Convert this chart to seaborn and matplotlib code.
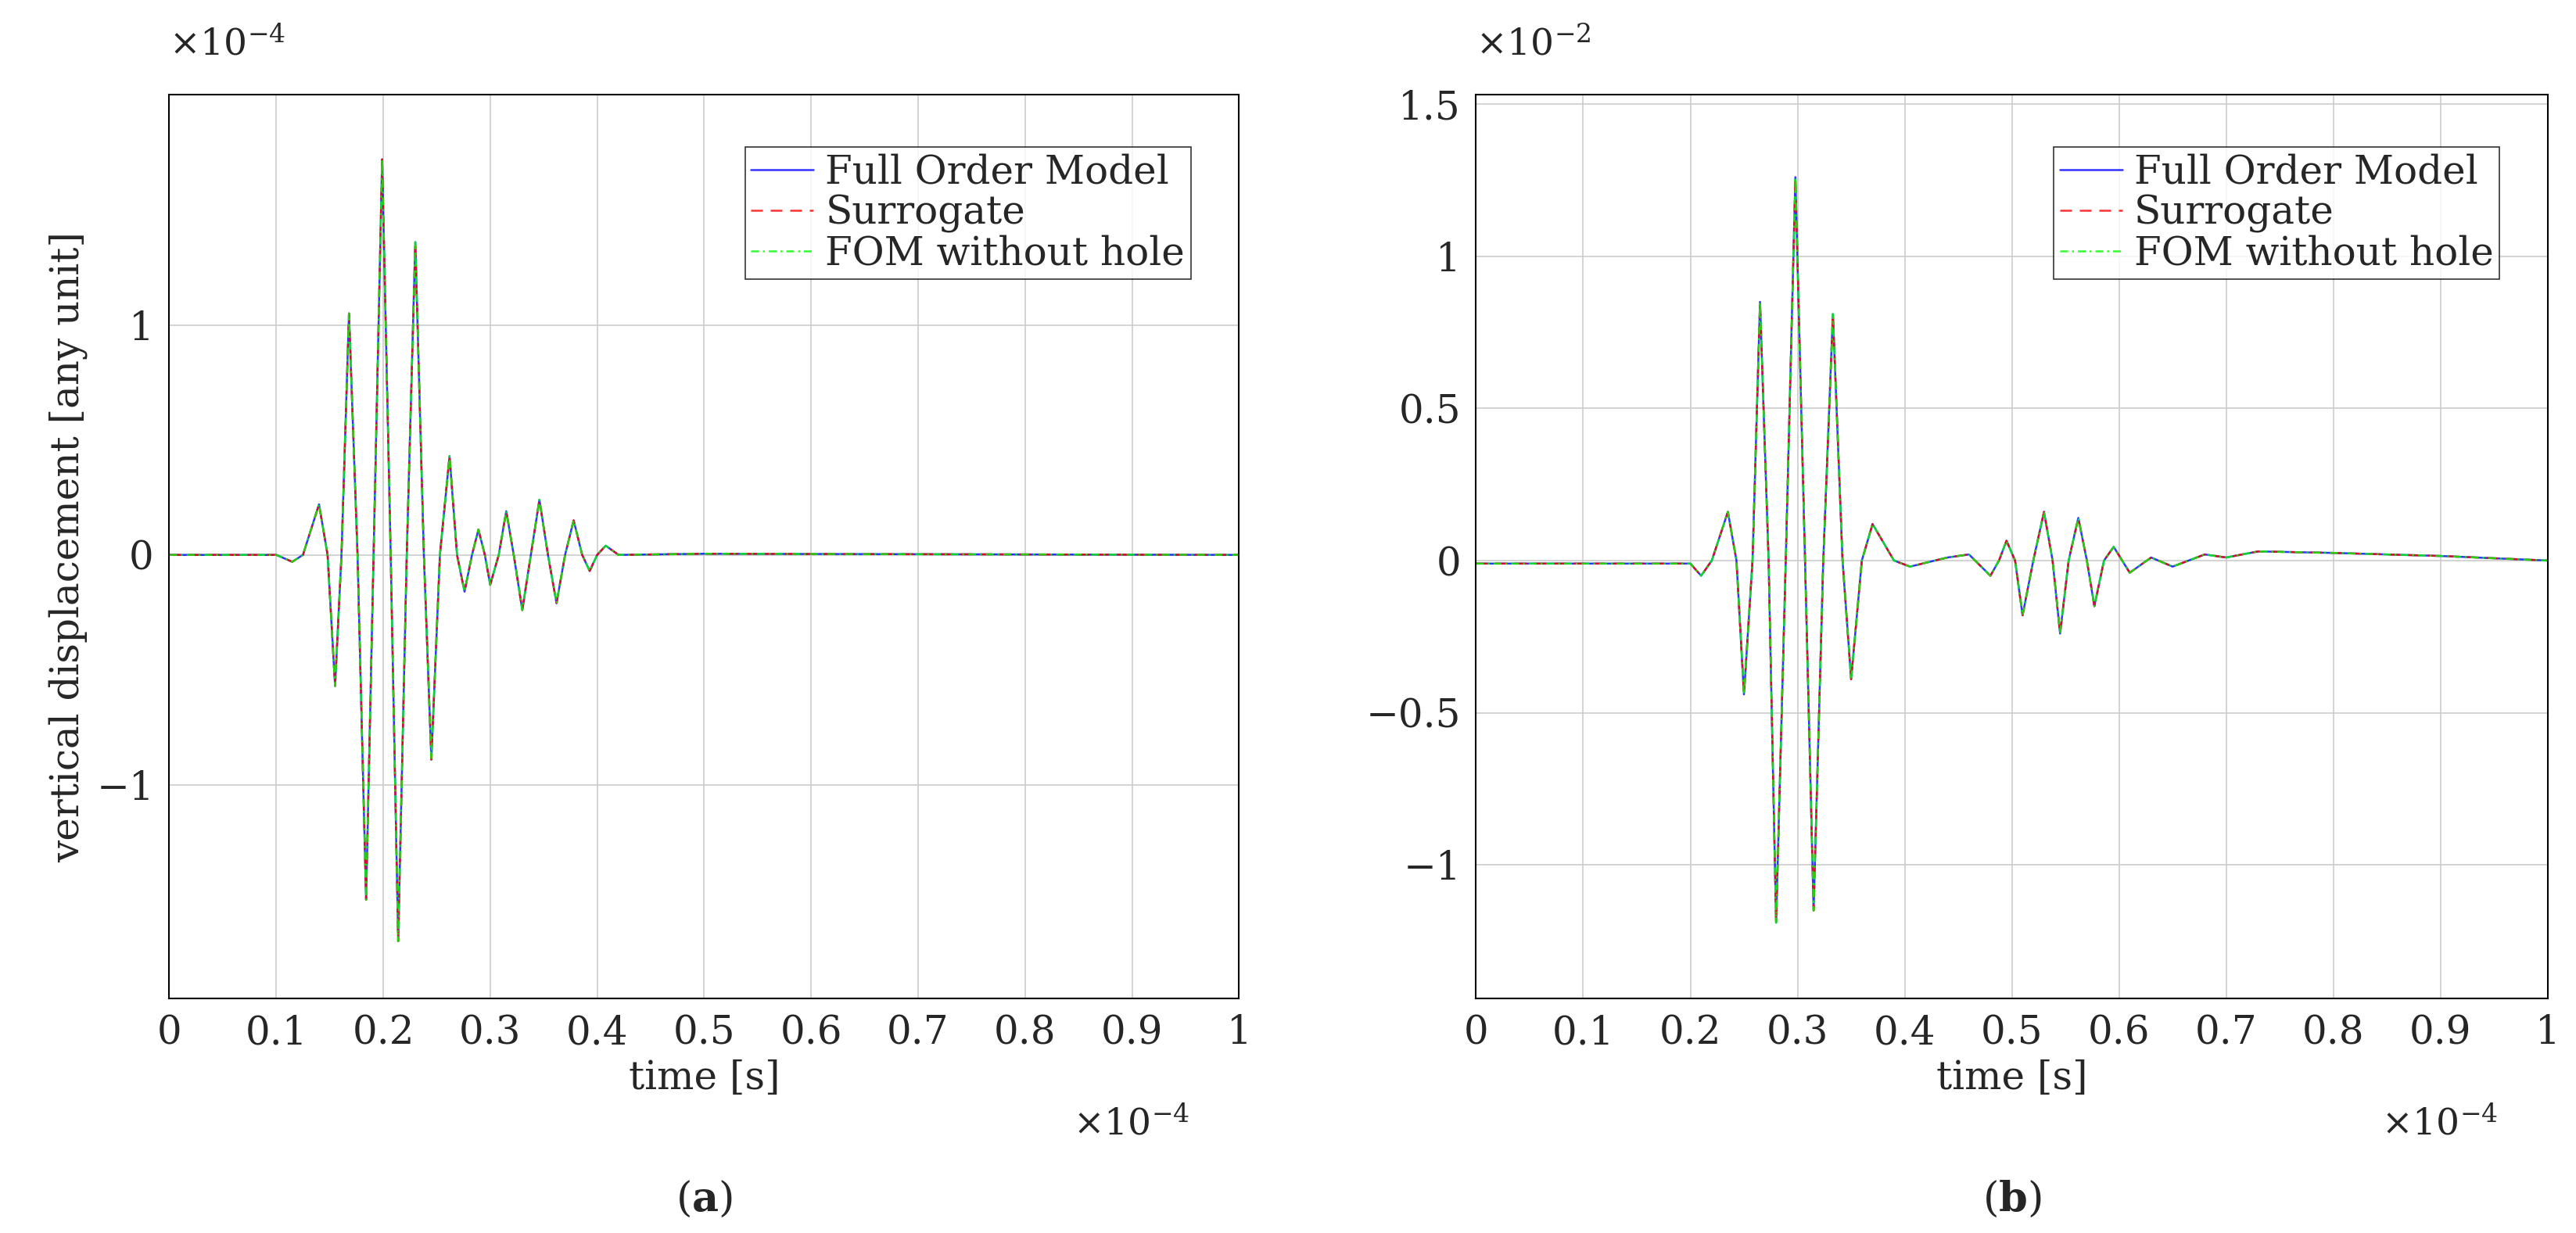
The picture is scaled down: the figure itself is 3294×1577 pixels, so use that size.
import numpy as np
import pandas as pd
import matplotlib
matplotlib.use("Agg")
import matplotlib.pyplot as plt
import seaborn as sns

# time in units of 1e-4 s, displacement in units of 1e-4 (a) / 1e-2 (b)
t_a = [0, 0.10, 0.115, 0.125, 0.14, 0.148, 0.155, 0.161, 0.168, 0.176, 0.184, 0.191, 0.199, 0.207,
       0.214, 0.222, 0.23, 0.238, 0.245, 0.253, 0.262, 0.269, 0.276, 0.283, 0.289, 0.295, 0.30, 0.308,
       0.315, 0.322, 0.33, 0.338, 0.346, 0.354, 0.362, 0.37, 0.378, 0.386, 0.393, 0.40, 0.408, 0.42, 0.5, 1.0]
y_a = [0, 0, -0.03, 0.0, 0.22, 0.0, -0.57, 0.0, 1.05, 0.0, -1.50, 0.0, 1.72, 0.0,
       -1.68, 0.0, 1.36, 0.0, -0.89, 0.0, 0.43, 0.0, -0.16, 0.0, 0.11, 0.0, -0.13, 0.0,
       0.19, 0.0, -0.24, 0.0, 0.24, 0.0, -0.21, 0.0, 0.15, 0.0, -0.07, 0.0, 0.04, 0.0, 0.005, 0.0]

t_b = [0, 0.20, 0.21, 0.22, 0.235, 0.243, 0.25, 0.258, 0.265, 0.273, 0.28, 0.289, 0.298, 0.307,
       0.315, 0.324, 0.333, 0.342, 0.35, 0.36, 0.37, 0.39, 0.405, 0.44, 0.46, 0.48, 0.488, 0.495,
       0.503, 0.51, 0.52, 0.53, 0.538, 0.545, 0.553, 0.562, 0.57, 0.577, 0.586, 0.595, 0.61, 0.63,
       0.65, 0.68, 0.70, 0.73, 0.80, 0.90, 1.0]
y_b = [-0.01, -0.01, -0.05, 0.0, 0.16, 0.0, -0.44, 0.0, 0.85, 0.0, -1.19, 0.0, 1.26, 0.0,
       -1.15, 0.0, 0.81, 0.0, -0.39, 0.0, 0.12, 0.0, -0.02, 0.01, 0.02, -0.05, 0.0, 0.065,
       0.0, -0.18, 0.0, 0.16, 0.0, -0.24, 0.0, 0.14, 0.0, -0.15, 0.0, 0.045, -0.04, 0.01,
       -0.02, 0.02, 0.01, 0.03, 0.025, 0.015, 0.0]

series = ["Full Order Model", "Surrogate", "FOM without hole"]
colors = ["#0000ff", "#ff0000", "#00ff00"]
styles = ["-", (0, (6, 4)), (0, (4, 2, 1, 2))]
x_ticks = [0, 0.1, 0.2, 0.3, 0.4, 0.5, 0.6, 0.7, 0.8, 0.9, 1.0]
x_ticklabels = ["0", "0.1", "0.2", "0.3", "0.4", "0.5", "0.6", "0.7", "0.8", "0.9", "1"]

sns.set_style("white")
plt.rcParams["font.family"] = "DejaVu Serif"
plt.rcParams["mathtext.fontset"] = "dejavuserif"
fig = plt.figure(figsize=(32.94, 15.77), dpi=100)
axA = fig.add_axes([0.0657, 0.190, 0.4153, 0.733])
axB = fig.add_axes([0.573, 0.190, 0.416, 0.733])

def draw(ax, t, y, ylim, yticks, yticklabels, exp, caption, ylabel):
    for s, c, ls in zip(series, colors, styles):
        df = pd.DataFrame({"t": t, "y": y})
        sns.lineplot(data=df, x="t", y="y", ax=ax, color=c, linestyle=ls, lw=1.8, label=s, alpha=0.8)
    ax.set_xlim(0, 1)
    ax.set_ylim(*ylim)
    ax.set_xticks(x_ticks)
    ax.set_xticklabels(x_ticklabels)
    ax.set_yticks(yticks)
    ax.set_yticklabels(yticklabels)
    ax.grid(True, color="#cccccc", lw=1.2)
    ax.tick_params(labelsize=36, length=8, direction="in", pad=14)
    for sp in ax.spines.values():
        sp.set_color("black"); sp.set_linewidth(1.5)
    ax.set_xlabel("time [s]", fontsize=36, labelpad=6)
    ax.set_ylabel(ylabel, fontsize=36, labelpad=8)
    ax.text(0.0, 1.035, r"$\times10^{%d}$" % exp, transform=ax.transAxes, fontsize=34, va="bottom")
    ax.text(0.845, -0.12, r"$\times10^{-4}$", transform=ax.transAxes, fontsize=34, va="top")
    ax.text(0.5, -0.2, caption, transform=ax.transAxes, fontsize=38, ha="center", va="top")
    leg = ax.legend(loc="upper right", fontsize=36, frameon=True, fancybox=False,
                    edgecolor="black", handlelength=1.6, handletextpad=0.3,
                    bbox_to_anchor=(0.955, 0.942), borderaxespad=0, borderpad=0.15,
                    labelspacing=0.05)
    leg.get_frame().set_linewidth(1.2)

draw(axA, t_a, y_a, (-1.93, 2.0), [-1, 0, 1], ["\u22121", "0", "1"], -4,
     r"($\mathbf{a}$)", "vertical displacement [any unit]")
draw(axB, t_b, y_b, (-1.44, 1.53), [-1, -0.5, 0, 0.5, 1, 1.5],
     ["\u22121", "\u22120.5", "0", "0.5", "1", "1.5"], -2, r"($\mathbf{b}$)", "")
fig.savefig("out.png", dpi=100)
